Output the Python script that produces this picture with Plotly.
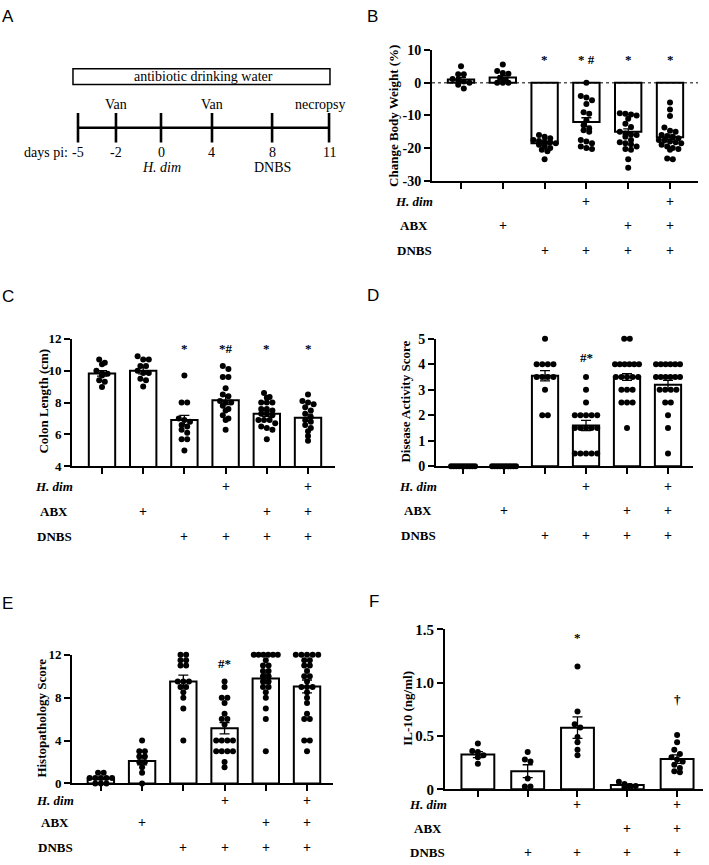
import numpy as np
import plotly.graph_objects as go

W, H = 709, 865

# ---------------- data ----------------
timeline_days = [-5, -2, 0, 4, 8, 11]
timeline_pos = [0.0, 2.42, 5.29, 8.54, 12.37, 16.0]
timeline_above = ['', 'Van', '', 'Van', '', 'necropsy']
timeline_below = ['', '', '<i>H. dim</i>', '', 'DNBS', '']
abx_label = 'antibiotic drinking water'

row_names = ['<i>H. dim</i>', 'ABX', 'DNBS']
hdim6 = ['', '', '', '+', '', '+']
abx6 = ['', '+', '', '', '+', '+']
dnbs6 = ['', '', '+', '+', '+', '+']
hdim5 = ['', '', '+', '', '+']
abx5 = ['', '', '', '+', '+']
dnbs5 = ['', '+', '+', '+', '+']

# B: change body weight (%)
bw_points = [
    [5.1, 2.6, 2.6, 1.2, 0.8, 0.4, 0.0, -0.6, -1.7],
    [5.6, 3.6, 3.0, 2.8, 1.5, 1.0, 0.0, 0.0, 0.0],
    [-16.0, -16.5, -17.0, -17.5, -17.8, -18.0, -18.2, -18.5, -19.0, -19.5, -20.0, -20.5, -21.0, -23.4],
    [0.0, -4.0, -4.5, -5.3, -6.5, -9.0, -9.5, -11.5, -13.0, -14.0, -14.5, -15.0, -17.5, -18.0, -18.5, -19.5, -20.0, -20.3],
    [-9.3, -9.5, -9.7, -10.0, -11.0, -12.5, -13.5, -15.0, -15.5, -15.8, -16.0, -16.5, -17.5, -18.2, -18.5, -18.8, -19.5, -20.3, -20.5, -23.4, -26.0],
    [-6.0, -8.2, -10.2, -13.7, -14.7, -15.0, -16.0, -16.3, -16.5, -17.0, -17.5, -17.7, -18.0, -18.2, -18.5, -19.0, -19.5, -20.0, -20.3, -20.5, -23.2, -23.4],
]
bw_mean = [1.0, 1.6, -18.5, -12.0, -15.0, -16.7]
bw_sem = [0.7, 0.6, 0.5, 1.3, 0.9, 0.7]
bw_sig = ['', '', '*', '* #', '*', '*']
bw_sig_y = [None, None, 7.3, 7.3, 7.3, 7.3]
bw_yticks = [10, 0, -10, -20, -30]
bw_yticktext = ['10', '0', '-10', '-20', '-30']

# C: colon length (cm)
cl_points = [
    [10.7, 10.5, 10.4, 10.0, 9.85, 9.8, 9.7, 9.4, 9.3, 8.97],
    [10.9, 10.7, 10.7, 10.3, 10.3, 10.0, 9.85, 9.85, 9.5, 9.4, 9.0],
    [9.7, 8.0, 8.0, 7.0, 6.9, 6.8, 6.6, 6.5, 6.3, 6.1, 5.7, 5.7, 5.0],
    [10.3, 10.1, 9.6, 9.6, 8.9, 8.5, 8.4, 8.1, 8.0, 8.0, 7.8, 7.6, 7.5, 7.2, 7.0, 6.9, 6.3],
    [8.6, 8.35, 8.3, 8.0, 8.0, 8.0, 7.6, 7.6, 7.5, 7.3, 7.3, 7.2, 6.9, 6.9, 6.9, 6.7, 6.5, 6.4, 6.3, 5.7],
    [8.5, 8.1, 8.0, 7.9, 7.7, 7.5, 7.3, 7.1, 6.9, 6.8, 6.6, 6.4, 6.2, 5.9, 5.6],
]
cl_mean = [9.83, 10.0, 6.9, 8.15, 7.3, 7.05]
cl_sem = [0.17, 0.2, 0.3, 0.28, 0.17, 0.22]
cl_sig = ['', '', '*', '*#', '*', '*']
cl_sig_y = [None, None, 11.37, 11.37, 11.37, 11.37]
cl_yticks = [12, 10, 8, 6, 4]
cl_yticktext = ['12', '10', '8', '6', '4']

# D: disease activity score
dai_points = [
    [0, 0, 0, 0, 0, 0, 0, 0, 0, 0],
    [0, 0, 0, 0, 0, 0, 0, 0, 0, 0],
    [5, 4, 4, 4, 4, 3.5, 3.5, 3.5, 3.5, 3, 2, 2],
    [3.5, 3, 2.5, 2, 2, 2, 2, 2, 1.5, 1.5, 1.5, 1.5, 1.5, 0.5, 0.5, 0.5, 0.5, 0.5],
    [5, 5, 4, 4, 4, 4, 4, 4, 3.5, 3.5, 3.5, 3.5, 3.5, 3, 3, 3, 2.5, 2.5, 2.5, 1.5],
    [4, 4, 4, 4, 4, 4, 3.5, 3.5, 3.5, 3.5, 3.5, 3.5, 3, 3, 3, 3, 2.5, 2.5, 2, 1.5, 0.5],
]
dai_mean = [0, 0, 3.55, 1.6, 3.5, 3.2]
dai_sem = [0, 0, 0.2, 0.2, 0.13, 0.17]
dai_sig = ['', '', '*', '#*', '*', '*']
dai_sig_y = [None, None, 5.58, 4.28, 5.58, 5.58]
dai_yticks = [5, 4, 3, 2, 1, 0]
dai_yticktext = ['5', '4', '3', '2', '1', '0']

# E: histopathology score
hp_points = [
    [1, 1, 0.5, 0.5, 0.5, 0.5, 0.5, 0, 0, 0],
    [4, 3, 3, 2.5, 2.5, 2, 2, 1.5, 1, 0],
    [12, 12, 11.5, 11.5, 11, 11, 9.5, 9.5, 9.5, 9, 9, 8.5, 8, 7, 4],
    [9.5, 9.0, 8.0, 8.0, 7.5, 6.5, 6.0, 6.0, 5.5, 4, 4, 4, 4, 3, 3, 3, 3, 2, 1.5],
    [12, 12, 12, 12, 12, 12, 11.5, 11, 11, 10.5, 10.5, 10, 10, 9.5, 9.5, 9, 9, 8.5, 8, 7, 6, 3],
    [12, 12, 12, 12, 12, 11.5, 11.5, 11, 11, 10.5, 10, 10, 9.5, 9, 9, 9, 8.5, 8, 7.5, 6.5, 6, 6, 4, 4, 3],
]
hp_mean = [0.45, 2.1, 9.5, 5.15, 9.8, 9.05]
hp_sem = [0.1, 0.38, 0.6, 0.53, 0.52, 0.6]
hp_sig = ['', '', '*', '#*', '*', '*']
hp_sig_y = [None, None, 13.3, 11.2, 13.3, 13.3]
hp_yticks = [12, 8, 4, 0]
hp_yticktext = ['12', '8', '4', '0']

# F: IL-10 (ng/ml)
il_points = [
    [0.43, 0.36, 0.35, 0.32, 0.30, 0.24],
    [0.35, 0.28, 0.26, 0.10, 0.025, 0.025],
    [1.15, 0.73, 0.61, 0.58, 0.49, 0.44, 0.37, 0.32],
    [0.07, 0.05, 0.03, 0.03, 0.02, 0.02],
    [0.51, 0.44, 0.37, 0.33, 0.30, 0.28, 0.26, 0.23, 0.20, 0.17, 0.16],
]
il_mean = [0.325, 0.17, 0.578, 0.04, 0.283]
il_sem = [0.028, 0.06, 0.1, 0.01, 0.04]
il_sig = ['', '', '*', '', '\u2020']
il_sig_y = [None, None, 1.42, None, 0.84]
il_yticks = [1.5, 1.0, 0.5, 0]
il_yticktext = ['1.5', '1.0', '0.5', '0']

# ---------------- layout helpers ----------------
SERIF = 'Liberation Serif'
SANS = 'Liberation Sans'


def xd(px):
    return px / W


def yd(py):
    return 1 - py / H


def swarm(vals, ppu_y, max_span, d=5.6):
    vals = np.asarray(vals, float)
    order = np.argsort(-vals, kind='stable')
    dx = np.zeros(len(vals))
    rows, cur = [], []
    for i in order:
        if cur and abs(vals[cur[0]] - vals[i]) * ppu_y > 0.8 * d:
            rows.append(cur)
            cur = []
        cur.append(i)
    if cur:
        rows.append(cur)
    for r in rows:
        n = len(r)
        sp = d if n <= 1 else min(d, max_span / (n - 1))
        for k, i in enumerate(r):
            dx[i] = (k - (n - 1) / 2) * sp
    return dx


fig = go.Figure()
annotations = []
shapes = []
layout_axes = {}

# ---------------- panel A (timeline) ----------------
a_xpx = (60, 345)
a_ypx = (50, 175)
a_x0px, a_ppu = 78.0, 15.69
a_base = 122.0
layout_axes['xaxis'] = dict(domain=[xd(a_xpx[0]), xd(a_xpx[1])],
                            range=[(a_xpx[0] - a_x0px) / a_ppu, (a_xpx[1] - a_x0px) / a_ppu],
                            visible=False, anchor='y')
layout_axes['yaxis'] = dict(domain=[yd(a_ypx[1]), yd(a_ypx[0])],
                            range=[a_base - a_ypx[1], a_base - a_ypx[0]],
                            visible=False, anchor='x')

tx, ty = [timeline_pos[0], timeline_pos[-1], None], [0, 0, None]
for p in timeline_pos:
    tx += [p, p, None]
    ty += [-15, 15, None]
fig.add_scatter(x=tx, y=ty, mode='lines', line=dict(color='black', width=2.6),
                xaxis='x', yaxis='y', showlegend=False, hoverinfo='skip')
shapes.append(dict(type='rect', xref='x', yref='y',
                   x0=timeline_pos[0] - 0.32, x1=timeline_pos[-1] + 0.06, y0=44, y1=60,
                   line=dict(color='black', width=1.5), fillcolor='white'))
annotations.append(dict(xref='x', yref='y', x=(timeline_pos[0] + timeline_pos[-1]) / 2, y=52,
                        text=abx_label, showarrow=False,
                        font=dict(family=SERIF, size=14, color='black')))
for p, d_, ab, be in zip(timeline_pos, timeline_days, timeline_above, timeline_below):
    if ab:
        annotations.append(dict(xref='x', yref='y', x=p, y=24, text=ab, showarrow=False,
                                xshift=-9 if ab == 'necropsy' else 0,
                                font=dict(family=SERIF, size=14, color='black')))
    annotations.append(dict(xref='x', yref='y', x=p, y=-25, text=str(d_), showarrow=False,
                            font=dict(family=SERIF, size=14, color='black')))
    if be:
        annotations.append(dict(xref='x', yref='y', x=p, y=-41, text=be, showarrow=False,
                                font=dict(family=SERIF, size=14, color='black')))
annotations.append(dict(xref='x', yref='y', x=timeline_pos[0], y=-25, text='days pi:',
                        showarrow=False, xanchor='right', xshift=-8,
                        font=dict(family=SERIF, size=14, color='black')))

# ---------------- bar panels ----------------
panels = [
    dict(letter='B', letter_xy=(373, 9), ax=2, xpx=(432, 698), ypx=(43, 176),
         xr=(-0.694, 5.67), yr=(-30, 10), pts=bw_points, mean=bw_mean, sem=bw_sem,
         sig=bw_sig, sig_y=bw_sig_y, ytv=bw_yticks, ytt=bw_yticktext, tfs=14,
         title='Change Body Weight (%)', title_xy=(394, 110),
         rows=[hdim6, abx6, dnbs6], rows_py=[197, 222, 247], label_cx=414, bw=0.63, span=24),
    dict(letter='C', letter_xy=(8, 294), ax=3, xpx=(72, 335), ypx=(337, 467),
         xr=(-0.728, 5.655), yr=(4, 12), pts=cl_points, mean=cl_mean, sem=cl_sem,
         sig=cl_sig, sig_y=cl_sig_y, ytv=cl_yticks, ytt=cl_yticktext, tfs=13,
         title='Colon Length (cm)', title_xy=(44, 401),
         rows=[hdim6, abx6, dnbs6], rows_py=[488, 513, 538], label_cx=54, bw=0.64, span=24),
    dict(letter='D', letter_xy=(373, 293), ax=4, xpx=(436, 693), ypx=(337, 467),
         xr=(-0.66, 5.61), yr=(0, 5), pts=dai_points, mean=dai_mean, sem=dai_sem,
         sig=dai_sig, sig_y=dai_sig_y, ytv=dai_yticks, ytt=dai_yticktext, tfs=14,
         title='Disease Activity Score', title_xy=(406, 401),
         rows=[hdim6, abx6, dnbs6], rows_py=[488, 512, 537], label_cx=418, bw=0.64, span=24),
    dict(letter='E', letter_xy=(7, 607), ax=5, xpx=(72, 333), ypx=(659, 790),
         xr=(-0.70, 5.63), yr=(0, 12), pts=hp_points, mean=hp_mean, sem=hp_sem,
         sig=hp_sig, sig_y=hp_sig_y, ytv=hp_yticks, ytt=hp_yticktext, tfs=13,
         title='Histopathology Score', title_xy=(42, 724),
         rows=[hdim6, abx6, dnbs6], rows_py=[807, 830, 855], label_cx=55, bw=0.64, span=24),
    dict(letter='F', letter_xy=(374, 605), ax=6, xpx=(445, 703), ypx=(633, 796),
         xr=(-0.66, 4.52), yr=(0, 1.5), pts=il_points, mean=il_mean, sem=il_sem,
         sig=il_sig, sig_y=il_sig_y, ytv=il_yticks, ytt=il_yticktext, tfs=15,
         title='IL-10 (ng/ml)', title_xy=(408, 714),
         rows=[hdim5, abx5, dnbs5], rows_py=[812, 836, 860], label_cx=428, bw=0.66, span=28),
]

annotations.append(dict(xref='paper', yref='paper', x=xd(8), y=yd(9), text='A', showarrow=False,
                        font=dict(family=SANS, size=17, color='black')))

for p in panels:
    a = p['ax']
    xa, ya = f'x{a}', f'y{a}'
    n = len(p['mean'])
    ppu_x = (p['xpx'][1] - p['xpx'][0]) / (p['xr'][1] - p['xr'][0])
    ppu_y = (p['ypx'][1] - p['ypx'][0]) / (p['yr'][1] - p['yr'][0])
    layout_axes[f'xaxis{a}'] = dict(
        domain=[xd(p['xpx'][0]), xd(p['xpx'][1])], range=list(p['xr']), anchor=ya,
        showline=True, linecolor='black', linewidth=2, ticks='outside', ticklen=6,
        tickwidth=2, tickcolor='black', tickvals=list(range(n)), showticklabels=False,
        showgrid=False, zeroline=False, fixedrange=True)
    layout_axes[f'yaxis{a}'] = dict(
        domain=[yd(p['ypx'][1]), yd(p['ypx'][0])], range=list(p['yr']), anchor=xa,
        showline=True, linecolor='black', linewidth=2, ticks='outside', ticklen=6,
        tickwidth=2, tickcolor='black', tickvals=p['ytv'], ticktext=p['ytt'],
        tickfont=dict(family=SERIF, size=p['tfs'], color='black', weight='bold'),
        showgrid=False, zeroline=False, fixedrange=True)

    fig.add_bar(x=list(range(n)), y=p['mean'], width=p['bw'], xaxis=xa, yaxis=ya,
                marker=dict(color='white', line=dict(color='black', width=2)),
                showlegend=False, hoverinfo='skip')
    xs, ys = [], []
    for i, vals in enumerate(p['pts']):
        dx = swarm(vals, ppu_y, p['span'])
        xs += list(i + dx / ppu_x)
        ys += list(vals)
    fig.add_scatter(x=xs, y=ys, mode='markers', xaxis=xa, yaxis=ya, cliponaxis=False,
                    marker=dict(color='black', size=6, line=dict(width=0)),
                    showlegend=False, hoverinfo='skip')
    fig.add_scatter(x=list(range(n)), y=p['mean'], mode='markers', xaxis=xa, yaxis=ya,
                    marker=dict(color='rgba(0,0,0,0)', size=1),
                    error_y=dict(type='data', array=p['sem'], visible=True, color='black',
                                 thickness=1.3, width=5),
                    showlegend=False, hoverinfo='skip', cliponaxis=False)
    for i, (s, sy) in enumerate(zip(p['sig'], p['sig_y'])):
        if s:
            annotations.append(dict(xref=xa, yref=ya, x=i, y=sy, text=f'<b>{s}</b>',
                                    showarrow=False,
                                    font=dict(family=SERIF, size=13, color='black')))
    for name, row, py in zip(row_names, p['rows'], p['rows_py']):
        annotations.append(dict(xref='paper', yref='paper', x=xd(p['label_cx']), y=yd(py),
                                text=f'<b>{name}</b>', showarrow=False,
                                font=dict(family=SERIF, size=13, color='black')))
        for i, s in enumerate(row):
            if s:
                annotations.append(dict(xref=xa, yref='paper', x=i, y=yd(py),
                                        text=f'<b>{s}</b>', showarrow=False,
                                        font=dict(family=SERIF, size=14, color='black')))
    annotations.append(dict(xref='paper', yref='paper', x=xd(p['title_xy'][0]),
                            y=yd(p['title_xy'][1]), text=f"<b>{p['title']}</b>",
                            textangle=-90, showarrow=False,
                            font=dict(family=SERIF, size=13, color='black')))
    annotations.append(dict(xref='paper', yref='paper', x=xd(p['letter_xy'][0]),
                            y=yd(p['letter_xy'][1]), text=p['letter'], showarrow=False,
                            font=dict(family=SANS, size=17, color='black')))

for ann in annotations:
    ann.setdefault('xanchor', 'center')
    ann.setdefault('yanchor', 'middle')

# dotted zero line in B
shapes.append(dict(type='line', xref='x2 domain', yref='y2', x0=0, x1=1, y0=0, y1=0,
                   line=dict(color='black', width=1, dash='dot'), layer='above'))

fig.update_layout(width=W, height=H, margin=dict(l=0, r=0, t=0, b=0),
                  paper_bgcolor='white', plot_bgcolor='white',
                  annotations=annotations, shapes=shapes, showlegend=False,
                  **layout_axes)

fig.write_html('out.html', config={'displayModeBar': False},
               post_script="document.body.style.margin='0';document.body.style.overflow='hidden';")
